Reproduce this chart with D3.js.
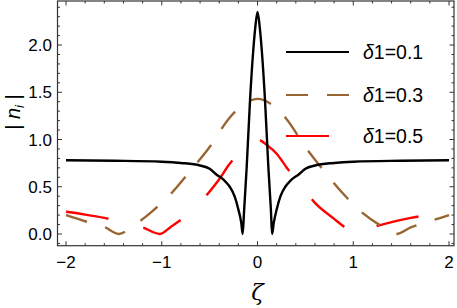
<!DOCTYPE html>
<meta charset="utf-8">
<script src="https://d3js.org/d3.v7.min.js"></script>
<style>
	body{
		margin:0;
		background:#fff;
		font-family: 'Liberation Sans', Arial, sans-serif;
	}
</style>
<div id="chart"></div>
<script>

// values (zeta, |n_i|)
var zeta1 = [-2,-1.5,-1,-0.8,-0.6,-0.5,-0.43,-0.35,-0.29,-0.24,-0.2,-0.17,-0.155,-0.14,-0.113,-0.078,-0.044,-0.023,0,0.023,0.044,0.078,0.113,0.14,0.152,0.17,0.2,0.24,0.29,0.35,0.43,0.5,0.6,0.8,1,1.5,2]
var n1    = [0.78,0.775,0.765,0.752,0.725,0.69,0.63,0.57,0.5,0.4,0.26,0.12,0.0,0.25,0.71,1.42,1.95,2.19,2.35,2.19,1.95,1.42,0.71,0.25,0.0,0.12,0.26,0.4,0.5,0.57,0.63,0.69,0.725,0.752,0.765,0.775,0.78]

var zeta3 = [-2,-1.8,-1.6,-1.45,-1.3,-1.1,-0.9,-0.7,-0.5,-0.3,-0.15,0,0.15,0.3,0.5,0.7,0.9,1.1,1.3,1.45,1.6,1.8,2]
var n3    = [0.2,0.135,0.075,0.0,0.085,0.24,0.43,0.67,0.92,1.22,1.37,1.43,1.37,1.22,0.92,0.66,0.42,0.22,0.08,0.0,0.07,0.135,0.2]

var zeta5 = [-2,-1.8,-1.6,-1.4,-1.2,-1.02,-0.9,-0.8,-0.6,-0.5,-0.4,-0.3,-0.2,-0.1,0,0.1,0.2,0.3,0.4,0.5,0.6,0.8,0.9,1.02,1.2,1.4,1.6,1.8,2]
var n5    = [0.235,0.205,0.17,0.125,0.07,0.0,0.08,0.15,0.33,0.45,0.58,0.73,0.85,0.94,1.0,0.94,0.85,0.71,0.58,0.45,0.33,0.16,0.08,0.0,0.07,0.125,0.17,0.205,0.235]

var seriesNames = ["0.1","0.3","0.5"]
var xTicks = [-2,-1,0,1,2]
var yTicks = [0,0.5,1,1.5,2]

var w = 457
var h = 308
var pLeft = 57.5, pRight = 454, pTop = 1, pBottom = 245.7

var xScale = d3.scaleLinear().domain([-2.089,2.052]).range([pLeft,pRight])
var yScale = d3.scaleLinear().domain([-0.124,2.466]).range([pBottom,pTop])

var svg = d3.select("#chart").append("svg").attr("width",w).attr("height",h)

svg.append("clipPath").attr("id","clip")
	.append("rect").attr("x",pLeft).attr("y",pTop).attr("width",pRight-pLeft).attr("height",pBottom-pTop)

var series = [
	{name:seriesNames[0], x:zeta1, y:n1, color:"#000", dash:null},
	{name:seriesNames[1], x:zeta3, y:n3, color:"#996633", dash:"22,19"},
	{name:seriesNames[2], x:zeta5, y:n5, color:"#ff0000", dash:"43,36"}
]

var line = d3.line()
	.x(function(d){ return xScale(d[0]) })
	.y(function(d){ return yScale(d[1]) })
	.curve(d3.curveMonotoneX)

// curves (red under brown under black, like the original)
var order = [2,1,0]
svg.append("g").attr("clip-path","url(#clip)")
	.selectAll("path")
	.data(order.map(function(i){ return series[i] }))
	.join("path")
	.attr("d",function(s){ return line(d3.zip(s.x,s.y)) })
	.attr("fill","none")
	.attr("stroke",function(s){ return s.color })
	.attr("stroke-width",2.4)
	.attr("stroke-dasharray",function(s){ return s.dash })

// axes, ticks point inward, mirrored on top/right
var xMinor = d3.range(-2,2.01,0.2)
var yMinor = d3.range(-0.1,2.45,0.1)

function tickSet(g, vals, major, horizontal, pos, dir){
	g.selectAll("line").data(vals).join("line")
		.attr("x1",function(d){ return horizontal ? xScale(d) : pos })
		.attr("x2",function(d){ return horizontal ? xScale(d) : pos+dir*(major ? 4.5 : 2.5) })
		.attr("y1",function(d){ return horizontal ? pos : yScale(d) })
		.attr("y2",function(d){ return horizontal ? pos+dir*(major ? 4.5 : 2.5) : yScale(d) })
		.attr("stroke","#333")
		.attr("stroke-width",1)
}
var isMajX = function(d){ return Math.abs(d-Math.round(d))<1e-6 }
var isMajY = function(d){ return Math.abs(d*2-Math.round(d*2))<1e-6 }
tickSet(svg.append("g"), xMinor.filter(isMajX), true, true, pBottom, -1)
tickSet(svg.append("g"), xMinor.filter(function(d){return !isMajX(d)}), false, true, pBottom, -1)
tickSet(svg.append("g"), xMinor.filter(isMajX), true, true, pTop, 1)
tickSet(svg.append("g"), xMinor.filter(function(d){return !isMajX(d)}), false, true, pTop, 1)
tickSet(svg.append("g"), yMinor.filter(isMajY), true, false, pLeft, 1)
tickSet(svg.append("g"), yMinor.filter(function(d){return !isMajY(d)}), false, false, pLeft, 1)
tickSet(svg.append("g"), yMinor.filter(isMajY), true, false, pRight, -1)
tickSet(svg.append("g"), yMinor.filter(function(d){return !isMajY(d)}), false, false, pRight, -1)

svg.append("rect").attr("x",pLeft).attr("y",pTop).attr("width",pRight-pLeft).attr("height",pBottom-pTop)
	.attr("fill","none").attr("stroke","#333").attr("stroke-width",1.2)

// tick labels
svg.append("g").selectAll("text").data(xTicks).join("text")
	.attr("x",function(d){ return xScale(d) })
	.attr("y",268)
	.attr("text-anchor","middle")
	.style("font-size","17px")
	.text(function(d){ return d<0 ? "\u2212"+Math.abs(d) : d })

svg.append("g").selectAll("text").data(yTicks).join("text")
	.attr("x",52)
	.attr("y",function(d){ return yScale(d)+6 })
	.attr("text-anchor","end")
	.style("font-size","17px")
	.text(function(d){ return d3.format(".1f")(d) })

// axis titles
svg.append("text")
	.attr("x",257.5).attr("y",300)
	.attr("text-anchor","middle")
	.style("font-size","23px").style("font-style","italic")
	.style("font-family","'DejaVu Serif', serif")
	.text("\u03B6")

var yt = svg.append("text")
	.attr("transform","translate(20,112) rotate(-90)")
	.attr("text-anchor","middle")
	.style("font-size","20px")
yt.append("tspan").text("| ")
yt.append("tspan").style("font-style","italic").text("n")
yt.append("tspan").style("font-style","italic").style("font-size","13px").attr("dy",4).text("i")
yt.append("tspan").attr("dy",-4).text(" |")

// legend
var legendY = [52,95,136]
var lg = svg.append("g").selectAll("g").data(series).join("g")
	.attr("transform",function(s,i){ return "translate(0,"+legendY[i]+")" })
lg.append("line")
	.attr("x1",286).attr("x2",349).attr("y1",0).attr("y2",0)
	.attr("stroke",function(s){ return s.color })
	.attr("stroke-width",2)
	.attr("stroke-dasharray",function(s){ return s.dash })
var lt = lg.append("text").attr("x",363).attr("y",7).style("font-size","19.5px")
lt.append("tspan").style("font-style","italic").text("\u03B4")
lt.append("tspan").text(function(s){ return "1="+s.name })

</script>
